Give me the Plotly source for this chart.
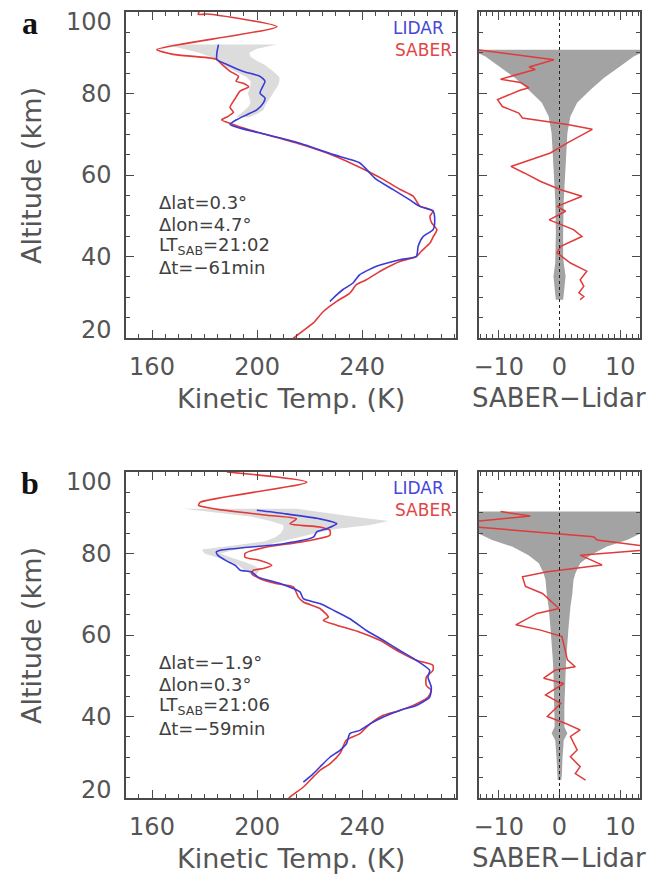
import plotly.graph_objects as go

W, H = 648, 882

# ---------------- Panel a data ----------------
saber_a_alt = [100.2, 99.4, 99.5, 96.4, 90.8, 89.6, 88.4, 87.2, 85.5, 84.2, 83.0, 82.5, 81.6, 80.6,
               78.6, 76.6, 75.4, 74.4, 73.5, 72.7, 71.8, 69.9, 67.6, 64.8, 61.9, 59.0, 56.5, 54.8,
               52.4, 51.2, 49.9, 48.2, 46.6, 44.8, 43.3, 41.3, 40.0, 38.8, 36.8, 34.3, 33.1, 31.0,
               29.0, 26.5, 23.7, 21.2, 19.0]
saber_a_T = [178.0, 177.6, 181.0, 207.5, 161.8, 168.0, 184.5, 186.5, 189.6, 192.9, 192.0, 194.7,
             196.8, 193.5, 191.5, 189.7, 191.0, 189.0, 186.5, 189.6, 193.5, 203.7, 216.3, 229.0,
             239.0, 247.8, 254.3, 259.4, 261.9, 267.0, 265.8, 266.5, 268.4, 267.0, 265.8, 262.5,
             260.6, 254.3, 248.0, 241.6, 237.8, 235.3, 230.3, 225.2, 221.4, 216.3, 212.0]

lidar_a_alt = [92.0, 90.0, 88.3, 87.1, 85.4, 84.2, 83.0, 81.3, 80.1, 78.9, 77.7, 76.0, 74.8, 73.6,
               72.4, 71.5, 69.9, 67.8, 65.0, 63.0, 60.5, 58.9, 56.4, 53.9, 52.3, 51.1, 49.0, 46.6,
               44.9, 42.5, 40.0, 39.2, 37.6, 35.5, 33.5, 31.9, 30.6, 29.0]
lidar_a_T = [185.3, 184.7, 184.7, 188.5, 194.8, 201.1, 203.0, 201.8, 201.1, 203.0, 202.4, 199.9,
             196.1, 192.3, 189.7, 193.5, 203.7, 216.3, 229.0, 239.0, 242.9, 245.4, 251.8, 258.1,
             261.9, 267.0, 267.6, 267.0, 263.2, 261.3, 260.6, 254.3, 245.4, 239.0, 236.5, 232.7,
             230.3, 227.7]

band_a_alt = [92.0, 91.0, 90.0, 89.0, 88.0, 87.0, 86.0, 85.0, 84.0, 83.0, 82.0, 81.0, 80.0, 79.0,
              78.0, 77.0, 76.0, 75.0, 74.2]
band_a_lo = [165, 172, 178, 182, 185, 187, 190, 193, 196, 197.5, 197.5, 197, 196.5, 197, 197.5,
             197, 195.5, 193.5, 192]
band_a_hi = [207.5, 200, 197, 197.5, 200, 203, 205, 207, 208.5, 208.5, 208, 207, 206, 205, 204,
             203, 202.5, 200, 197]

err_a_alt = [90.75, 90.0, 89.1, 86.7, 83.8, 80.9, 77.7, 74.4, 70.3, 62.1, 53.9, 45.8, 40.0, 38.4,
             35.1, 31.9, 29.4]
err_a = [30, 13.5, 12.2, 10.0, 7.3, 5.1, 2.9, 1.8, 1.3, 1.0, 0.7, 0.6, 0.6, 0.7, 1.0, 0.8, 0.6]

diff_a_alt = [90.7, 88.3, 86.5, 85.9, 85.4, 83.5, 82.7, 81.4, 80.8, 78.5, 76.8, 75.2, 74.0, 72.4,
              71.2, 67.9, 65.4, 62.1, 60.5, 58.4, 56.4, 54.8, 52.3, 51.1, 49.0, 46.6, 44.9, 42.5,
              40.9, 38.4, 36.4, 34.3, 32.7, 31.1, 30.2, 29.4]
diff_a = [-13.5, -0.9, -5.0, -4.0, -5.2, -9.7, -6.4, -5.0, -6.5, -10.2, -9.4, -6.7, -6.1, 1.3, 5.4,
          1.3, -1.5, -8.0, -5.8, -3.1, 0.2, 3.7, -0.4, 1.0, -1.7, 2.3, 3.7, 0.2, -0.4, 1.8, 4.5,
          3.4, 4.0, 3.2, 4.0, 3.4]

text_a = ["Δlat=0.3°", "Δlon=4.7°", "LT<sub>SAB</sub>=21:02", "Δt=−61min"]

# ---------------- Panel b data ----------------
saber_b_alt = [100.0, 97.5, 92.6, 91.8, 91.0, 89.4, 88.5, 87.3, 86.5, 85.7, 84.5, 82.8, 81.6, 80.0,
               79.1, 78.3, 77.1, 76.3, 75.9, 75.1, 73.8, 72.6, 71.8, 69.3, 68.1, 66.5, 64.4, 63.6,
               62.4, 60.7, 58.7, 55.8, 53.8, 52.6, 51.3, 49.7, 47.6, 46.4, 44.8, 43.1, 41.5, 40.3,
               38.2, 35.8, 34.2, 30.9, 28.4, 26.8, 25.2, 22.7, 20.2, 19.0]
saber_b_T = [188.5, 218.9, 178.4, 177.7, 183.4, 203.7, 215.0, 212.5, 223.9, 227.7, 227.7, 216.3,
             203.7, 195.4, 195.4, 201.1, 205.6, 202.4, 198.6, 197.9, 201.1, 207.5, 213.8, 215.7,
             217.6, 223.9, 227.1, 225.2, 230.3, 239.1, 246.7, 254.3, 260.6, 266.9, 266.9, 264.4,
             264.4, 266.3, 265.1, 260.6, 254.3, 248.0, 243.0, 239.1, 234.0, 231.5, 227.7, 223.9,
             221.4, 217.6, 212.5, 211.0]

lidar_b_alt = [90.6, 89.8, 88.5, 87.3, 86.1, 85.3, 84.0, 82.4, 80.8, 80.4, 79.6, 78.3, 77.1, 75.9,
               75.5, 74.2, 72.6, 70.6, 68.9, 67.7, 66.1, 64.0, 61.1, 58.7, 56.2, 53.8, 51.3, 49.7,
               47.2, 44.8, 42.7, 41.5, 39.9, 38.2, 36.6, 35.8, 33.3, 31.7, 30.0, 27.6, 26.0, 23.9]
lidar_b_T = [199.9, 210.0, 223.9, 230.3, 226.5, 222.7, 221.4, 210.0, 186.0, 184.5, 185.0, 188.0,
             191.7, 193.6, 197.8, 200.4, 209.0, 216.3, 217.6, 223.9, 229.0, 235.3, 241.6, 248.0,
             254.3, 260.6, 265.7, 265.0, 266.3, 265.7, 260.6, 254.3, 248.0, 243.0, 239.1, 235.3,
             234.0, 231.5, 227.7, 223.9, 221.4, 217.6]

band_b_alt = [91.0, 90.0, 89.0, 88.0, 87.0, 86.0, 85.0, 84.0, 83.0, 82.0, 81.0, 80.0, 79.0, 78.0,
              77.0, 76.0, 75.0]
band_b_lo = [172, 185, 198, 205, 210, 210, 209, 207, 203, 192, 179, 180, 185, 190, 193, 195, 197.5]
band_b_hi = [215, 225, 237, 250, 243, 230, 222, 216, 210, 203, 192, 186, 190, 195, 199, 201, 200]

err_b_alt = [90.3, 87.0, 85.0, 83.3, 81.7, 79.6, 77.6, 75.1, 73.5, 70.0, 67.0, 62.0, 58.8, 54.0,
             50.6, 45.0, 42.4, 37.5, 35.9, 34.2, 30.0, 26.0, 24.4]
err_b = [30, 20, 13.5, 11.1, 7.8, 5.1, 3.4, 2.6, 2.3, 2.1, 1.8, 1.5, 1.3, 1.1, 1.0, 0.9, 0.8, 0.8,
         1.3, 0.7, 0.5, 0.4, 0.3]

diff_b_alt = [90.3, 89.2, 87.8, 86.6, 84.1, 83.3, 81.7, 80.9, 79.6, 77.2, 75.5, 74.3, 71.9, 70.2,
              66.5, 65.3, 62.5, 61.2, 59.6, 53.9, 52.2, 51.4, 49.4, 48.1, 45.3, 43.2, 40.0, 38.3,
              36.7, 35.1, 31.8, 30.1, 27.7, 26.0, 24.4]
diff_b = [-9.7, -4.8, -14.5, -14.5, 5.6, 6.2, 14.5, 14.5, 3.4, 7.0, -2.0, -6.1, -5.6, -2.8, -0.1,
          -3.7, -7.2, -3.1, 0.4, 1.3, 2.6, -0.7, -2.6, 0.7, -2.3, 0.2, -2.0, 1.0, 3.4, 1.8, 2.9,
          1.8, 3.4, 2.6, 4.3]

text_b = ["Δlat=−1.9°", "Δlon=0.3°", "LT<sub>SAB</sub>=21:06", "Δt=−59min"]

# axis tick labels
alt_range = [20, 100]
alt_ticks = [40, 60, 80]          # end labels (20, 100) drawn separately, nudged inward
alt_end_ticks = [100, 20]
temp_ticks = [160, 200, 240]
diff_ticks = [-10, 0, 10]
diff_ticktext = ["−10", "0", "10"]

# ---------------- styling ----------------
RED = "#e03a3a"
BLUE = "#3a3ad6"
BAND = "#dcdcdc"
SHADE = "#a3a3a3"
AX = "#4a4a4a"
TXT = "#555555"
FONT = "DejaVu Sans"


def px(x):
    return x / W


def py(y):
    return 1 - y / H


fig = go.Figure()

panels = [
    dict(sa=saber_a_alt, sT=saber_a_T, la=lidar_a_alt, lT=lidar_a_T, ba=band_a_alt, blo=band_a_lo,
         bhi=band_a_hi, ea=err_a_alt, e=err_a, da=diff_a_alt, d=diff_a, txt=text_a, off=0, lab="a"),
    dict(sa=saber_b_alt, sT=saber_b_T, la=lidar_b_alt, lT=lidar_b_T, ba=band_b_alt, blo=band_b_lo,
         bhi=band_b_hi, ea=err_b_alt, e=err_b, da=diff_b_alt, d=diff_b, txt=text_b, off=460, lab="b"),
]

annotations = []
shapes = []
for i, p in enumerate(panels):
    xl = "x" if i == 0 else "x3"
    yl = "y" if i == 0 else "y3"
    xr = "x2" if i == 0 else "x4"
    yr = "y2" if i == 0 else "y4"
    fig.add_trace(go.Scatter(x=p["blo"] + p["bhi"][::-1], y=p["ba"] + p["ba"][::-1],
                             fill="toself", fillcolor=BAND, line=dict(width=0),
                             mode="lines", xaxis=xl, yaxis=yl, hoverinfo="skip"))
    fig.add_trace(go.Scatter(x=p["sT"], y=p["sa"], mode="lines",
                             line=dict(color=RED, width=1.6, shape="spline", smoothing=0.6),
                             xaxis=xl, yaxis=yl))
    fig.add_trace(go.Scatter(x=p["lT"], y=p["la"], mode="lines",
                             line=dict(color=BLUE, width=1.6, shape="spline", smoothing=0.6),
                             xaxis=xl, yaxis=yl))
    neg = [-v for v in p["e"]]
    fig.add_trace(go.Scatter(x=neg + p["e"][::-1], y=p["ea"] + p["ea"][::-1],
                             fill="toself", fillcolor=SHADE, line=dict(width=0),
                             mode="lines", xaxis=xr, yaxis=yr, hoverinfo="skip"))
    fig.add_trace(go.Scatter(x=p["d"], y=p["da"], mode="lines",
                             line=dict(color=RED, width=1.5), xaxis=xr, yaxis=yr))
    shapes.append(dict(type="line", xref=xr, yref=yr, x0=0, x1=0, y0=alt_range[0],
                       y1=alt_range[1], line=dict(color="#222", width=1, dash="dot"),
                       layer="above"))

    # end tick labels of the altitude axis, nudged inward like the original
    for val, shift in zip(alt_end_ticks, (-10, 8)):
        annotations.append(dict(text=str(val), x=px(114), xref="paper", y=val, yref=yl,
                                yshift=shift, showarrow=False, xanchor="right",
                                yanchor="middle", font=dict(family=FONT, size=24, color=TXT)))

    off = p["off"]
    annotations.append(dict(text="<b>%s</b>" % p["lab"], x=px(30), y=py(23 + off), xref="paper",
                            yref="paper", showarrow=False, xanchor="center", yanchor="middle",
                            font=dict(family="Liberation Serif", size=32, color="#111")))
    annotations.append(dict(text="LIDAR", x=px(391), y=py(28 + off), xref="paper", yref="paper",
                            showarrow=False, xanchor="left", yanchor="middle",
                            font=dict(family=FONT, size=17, color="#4646d8")))
    annotations.append(dict(text="SABER", x=px(393), y=py(50 + off), xref="paper", yref="paper",
                            showarrow=False, xanchor="left", yanchor="middle",
                            font=dict(family=FONT, size=17, color="#e04646")))
    for k, t in enumerate(p["txt"]):
        annotations.append(dict(text=t, x=px(157), y=py(202 + 22 * k + off), xref="paper",
                                yref="paper", showarrow=False, xanchor="left", yanchor="middle",
                                font=dict(family=FONT, size=18, color="#404040")))
    annotations.append(dict(text="Kinetic Temp. (K)", x=px(291), y=py(398 + off), xref="paper",
                            yref="paper", showarrow=False, xanchor="center", yanchor="middle",
                            font=dict(family=FONT, size=27, color=TXT)))
    annotations.append(dict(text="SABER−Lidar", x=px(559), y=py(398 + off), xref="paper",
                            yref="paper", showarrow=False, xanchor="center", yanchor="middle",
                            font=dict(family=FONT, size=26, color=TXT)))
    annotations.append(dict(text="Altitude (km)", x=px(31), y=py(176 + off), xref="paper",
                            yref="paper", showarrow=False, xanchor="center", yanchor="middle",
                            textangle=-90, font=dict(family=FONT, size=27, color=TXT)))


def axstyle(**kw):
    d = dict(showline=True, linecolor=AX, linewidth=1.5, mirror="ticks", ticks="inside",
             ticklen=8, tickwidth=1.2, tickcolor=AX, showgrid=False, zeroline=False,
             automargin=False, tickfont=dict(family=FONT, size=24, color=TXT))
    d.update(kw)
    return d


left_dom = [px(126), px(456)]
right_dom = [px(479), px(640)]
a_dom = [py(338), py(12)]
b_dom = [py(798), py(472)]

xl_kw = dict(range=[150.1, 275.7], tickvals=temp_ticks, ticklabelstandoff=6,
             minor=dict(ticks="inside", ticklen=4, dtick=5, tick0=150, tickcolor=AX, showgrid=False))
xr_kw = dict(range=[-13.25, 13.25], tickvals=diff_ticks, ticktext=diff_ticktext,
             ticklabelstandoff=6,
             minor=dict(ticks="inside", ticklen=4, dtick=1, tick0=0, tickcolor=AX, showgrid=False))
y_kw = dict(range=alt_range, tickvals=alt_ticks,
            minor=dict(ticks="inside", ticklen=4, dtick=5, tick0=0, tickcolor=AX, showgrid=False))

fig.update_layout(
    width=W, height=H, margin=dict(l=0, r=0, t=0, b=0, autoexpand=False),
    paper_bgcolor="white", plot_bgcolor="white", showlegend=False,
    xaxis=axstyle(domain=left_dom, anchor="y", **xl_kw),
    yaxis=axstyle(domain=a_dom, anchor="x", ticklabelstandoff=8, **y_kw),
    xaxis2=axstyle(domain=right_dom, anchor="y2", **xr_kw),
    yaxis2=axstyle(domain=a_dom, anchor="x2", showticklabels=False, **y_kw),
    xaxis3=axstyle(domain=left_dom, anchor="y3", **xl_kw),
    yaxis3=axstyle(domain=b_dom, anchor="x3", ticklabelstandoff=8, **y_kw),
    xaxis4=axstyle(domain=right_dom, anchor="y4", **xr_kw),
    yaxis4=axstyle(domain=b_dom, anchor="x4", showticklabels=False, **y_kw),
    annotations=annotations, shapes=shapes,
)

fig.write_html("out.html", config={"displayModeBar": False},
               post_script="document.body.style.margin='0';"
                           "document.body.style.overflow='hidden';")
